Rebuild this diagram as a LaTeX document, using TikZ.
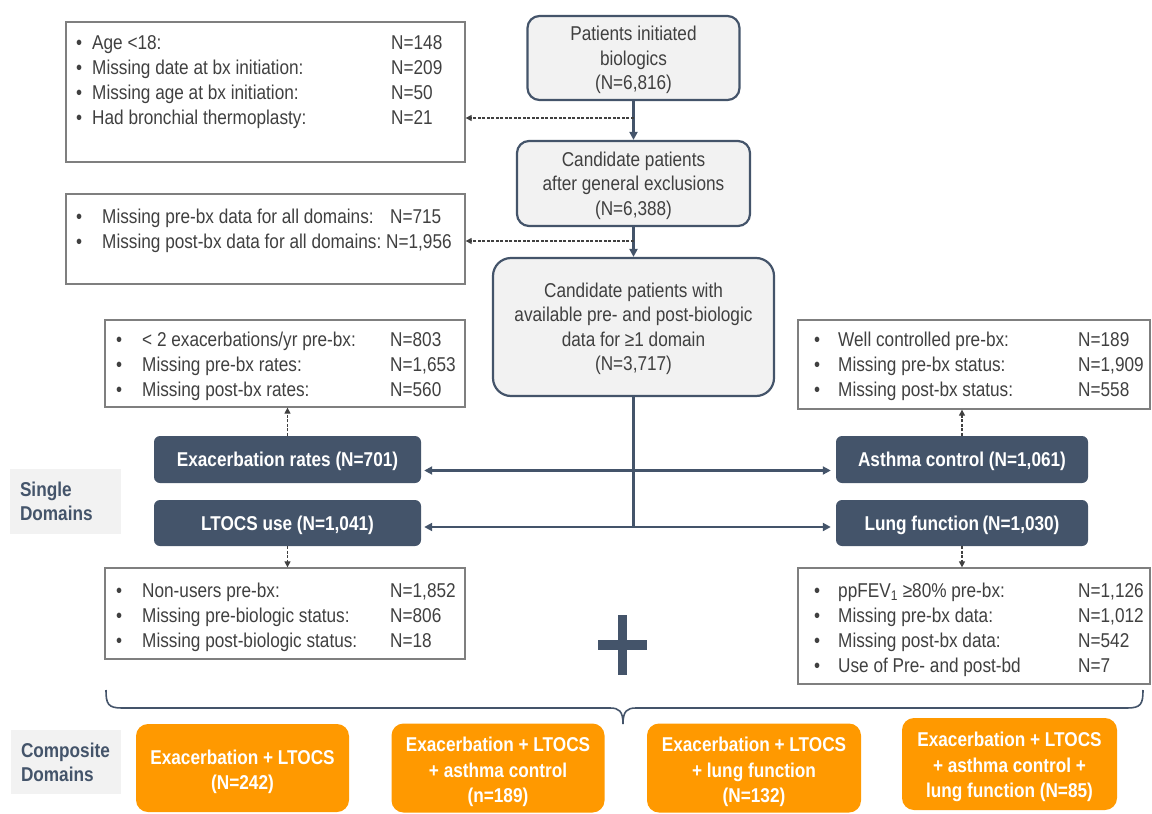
\documentclass[tikz,border=0pt]{standalone}
\usepackage{fontspec}
\setmainfont[FakeStretch=0.86]{Liberation Sans}
\usetikzlibrary{arrows.meta}
\definecolor{navy}{HTML}{44546A}
\definecolor{lgray}{HTML}{F2F2F2}
\definecolor{org}{HTML}{FF9900}
\definecolor{txt}{HTML}{404040}
\definecolor{bord}{HTML}{7F7F7F}
\newcommand\xrow[4]{\makebox[#1][l]{•}\makebox[#2][l]{#3}#4}
\begin{document}
\begin{tikzpicture}[x=1pt,y=-1pt,
  flowbox/.style={draw=navy,line width=2.2pt,fill=lgray,inner sep=0pt},
  flowtxt/.style={align=center,text=txt,font=\fontsize{20}{24.5}\selectfont,inner sep=0pt},
  exbox/.style={draw=bord,line width=1.3pt,fill=white,inner sep=0pt},
  extxt/.style={anchor=base west,inner sep=0pt,text=txt,font=\fontsize{20}{25}\selectfont},
  dombox/.style={fill=navy,rounded corners=6pt,inner sep=0pt},
  domtxt/.style={text=white,font=\bfseries\fontsize{20}{24}\selectfont,inner sep=0pt},
  orgbox/.style={fill=org,rounded corners=12pt,inner sep=0pt},
  orgtxt/.style={text=white,align=center,font=\bfseries\fontsize{20}{25.5}\selectfont,inner sep=0pt},
  lbl/.style={fill=lgray,text=navy,align=left,font=\bfseries\fontsize{20}{24}\selectfont,inner xsep=10pt,inner ysep=0pt},
  trunk/.style={draw=navy,line width=2.2pt},
  tip/.style={-{Triangle[width=8pt,length=8pt]}},
  dtip/.style={{Triangle[width=8pt,length=8pt]}-{Triangle[width=8pt,length=8pt]}},
  dashline/.style={draw=txt,line width=1.2pt,dash pattern=on 3pt off 1.5pt,-{Triangle[width=6pt,length=6pt]}}
]
\useasboundingbox (0,0) rectangle (1152,814);

% main flow boxes
\node[flowbox,rounded corners=12pt,minimum width=212pt,minimum height=84pt] (b1) at (633.5,58) {};
\node[flowtxt] (b1t) at ([yshift=-2pt]b1.center) {Patients initiated\\biologics\\(N=6,816)};
\node[flowbox,rounded corners=12pt,minimum width=233pt,minimum height=85pt] (b2) at (633.5,183.5) {};
\node[flowtxt] (b2t) at ([yshift=-2pt]b2.center) {Candidate patients\\after general exclusions\\(N=6,388)};
\node[flowbox,rounded corners=18pt,minimum width=281pt,minimum height=138pt] (b3) at (633.5,327) {};
\node[flowtxt] (b3t) at ([yshift=-2pt]b3.center) {Candidate patients with\\available pre- and post-biologic\\data for ≥1 domain\\(N=3,717)};

% exclusion boxes
\node[exbox,minimum width=399pt,minimum height=140pt] (exA) at (265.5,92) {};
\node[exbox,minimum width=399pt,minimum height=90pt] (exB) at (265.5,239) {};
\node[exbox,minimum width=360pt,minimum height=87pt] (exC) at (285,363.5) {};
\node[exbox,minimum width=360pt,minimum height=91pt] (exD) at (285,613.5) {};
\node[exbox,minimum width=352pt,minimum height=89pt] (exE) at (974,364.5) {};
\node[exbox,minimum width=352pt,minimum height=116pt] (exF) at (974,626) {};

\node[extxt] (exAt) at (76,49) {\begin{tabular}[t]{@{}l@{}}
 \xrow{16pt}{299pt}{Age <18:}{N=148}\\
 \xrow{16pt}{299pt}{Missing date at bx initiation:}{N=209}\\
 \xrow{16pt}{299pt}{Missing age at bx initiation:}{N=50}\\
 \xrow{16pt}{299pt}{Had bronchial thermoplasty:}{N=21}
\end{tabular}};
\node[extxt] (exBt) at (76,223) {\begin{tabular}[t]{@{}l@{}}
 \xrow{26pt}{288pt}{Missing pre-bx data for all domains:}{N=715}\\
 \xrow{26pt}{284pt}{Missing post-bx data for all domains:}{N=1,956}
\end{tabular}};
\node[extxt] (exCt) at (116,346) {\begin{tabular}[t]{@{}l@{}}
 \xrow{26pt}{248pt}{< 2 exacerbations/yr pre-bx:}{N=803}\\
 \xrow{26pt}{248pt}{Missing pre-bx rates:}{N=1,653}\\
 \xrow{26pt}{248pt}{Missing post-bx rates:}{N=560}
\end{tabular}};
\node[extxt] (exDt) at (116,597) {\begin{tabular}[t]{@{}l@{}}
 \xrow{26pt}{248pt}{Non-users pre-bx:}{N=1,852}\\
 \xrow{26pt}{248pt}{Missing pre-biologic status:}{N=806}\\
 \xrow{26pt}{248pt}{Missing post-biologic status:}{N=18}
\end{tabular}};
\node[extxt] (exEt) at (814,346) {\begin{tabular}[t]{@{}l@{}}
 \xrow{24pt}{240pt}{Well controlled pre-bx:}{N=189}\\
 \xrow{24pt}{240pt}{Missing pre-bx status:}{N=1,909}\\
 \xrow{24pt}{240pt}{Missing post-bx status:}{N=558}
\end{tabular}};
\node[extxt] (exFt) at (814,597) {\begin{tabular}[t]{@{}l@{}}
 \xrow{24pt}{240pt}{ppFEV\textsubscript{1} ≥80\% pre-bx:}{N=1,126}\\
 \xrow{24pt}{240pt}{Missing pre-bx data:}{N=1,012}\\
 \xrow{24pt}{240pt}{Missing post-bx data:}{N=542}\\
 \xrow{24pt}{240pt}{Use of Pre- and post-bd}{N=7}
\end{tabular}};

% single domain boxes
\node[dombox,minimum width=267pt,minimum height=47pt] (exr) at (287.5,459.5) {};
\node[domtxt] (exrt) at ([yshift=-2pt]exr.center) {Exacerbation rates (N=701)};
\node[dombox,minimum width=267pt,minimum height=46pt] (lto) at (287.5,523) {};
\node[domtxt] (ltot) at ([yshift=-2pt]lto.center) {LTOCS use (N=1,041)};
\node[dombox,minimum width=252pt,minimum height=47pt] (ast) at (962,459.5) {};
\node[domtxt] (astt) at ([yshift=-2pt]ast.center) {Asthma control (N=1,061)};
\node[dombox,minimum width=252pt,minimum height=46pt] (lun) at (962,523) {};
\node[domtxt] (lunt) at ([yshift=-2pt]lun.center) {Lung function\,(N=1,030)};

% labels
\node[lbl,text width=91pt,minimum height=65pt] (sd) at (65.5,501) {Single\\Domains};
\node[lbl,text width=90pt,minimum height=64pt] (cd) at (66,762) {Composite\\Domains};

% trunk
\coordinate (t1) at (633.5,118);
\coordinate (t2) at (633.5,241);
\coordinate (tend) at (633.5,527);
\draw[trunk,tip] (b1.south) -- (b2.north);
\draw[trunk,tip] (b2.south) -- (b3.north);
\draw[trunk] (b3.south) -- (tend);
\draw[trunk,dtip,shorten <=3pt,shorten >=5pt] ([yshift=-11pt]exr.east) -- ([yshift=-11pt]ast.west);
\draw[trunk,dtip,shorten <=3pt,shorten >=5pt] ([yshift=-4pt]lto.east) -- ([yshift=-4pt]lun.west);

% dashed exclusion arrows
\draw[dashline] (t1) -- (t1 -| exA.east);
\draw[dashline] (t2) -- (t2 -| exB.east);
\draw[dashline] (exr.north) -- (exr.north |- exC.south);
\draw[dashline] (lto.south) -- (lto.south |- exD.north);
\draw[dashline] (ast.north) -- (ast.north |- exE.south);
\draw[dashline] (lun.south) -- (lun.south |- exF.north);

% plus sign
\fill[navy] (618,615) rectangle (627,675);
\fill[navy] (598,640) rectangle (647,650);

% brace
\draw[navy,line width=1.6pt] (106,690) .. controls (106,704) and (108,708) .. (122,708)
  -- (610,708) .. controls (619,708) and (623,711) .. (623,724);
\draw[navy,line width=1.6pt] (1143,690) .. controls (1143,704) and (1141,708) .. (1127,708)
  -- (636,708) .. controls (627,708) and (623,711) .. (623,724);

% composite boxes
\node[orgbox,minimum width=213pt,minimum height=88pt] (o1) at (242.5,768) {};
\node[orgtxt] (o1t) at ([yshift=-4pt]o1.center) {Exacerbation + LTOCS\\(N=242)};
\node[orgbox,minimum width=213pt,minimum height=89pt] (o2) at (498,768) {};
\node[orgtxt] (o2t) at ([yshift=-4pt]o2.center) {Exacerbation + LTOCS\\+ asthma control\\(n=189)};
\node[orgbox,minimum width=214pt,minimum height=89pt] (o3) at (754,768) {};
\node[orgtxt] (o3t) at ([yshift=-4pt]o3.center) {Exacerbation + LTOCS\\+ lung function\\(N=132)};
\node[orgbox,minimum width=215pt,minimum height=92pt] (o4) at (1009.5,764) {};
\node[orgtxt] (o4t) at ([yshift=-3pt]o4.center) {Exacerbation + LTOCS\\+ asthma control +\\lung function (N=85)};
\end{tikzpicture}
\end{document}
